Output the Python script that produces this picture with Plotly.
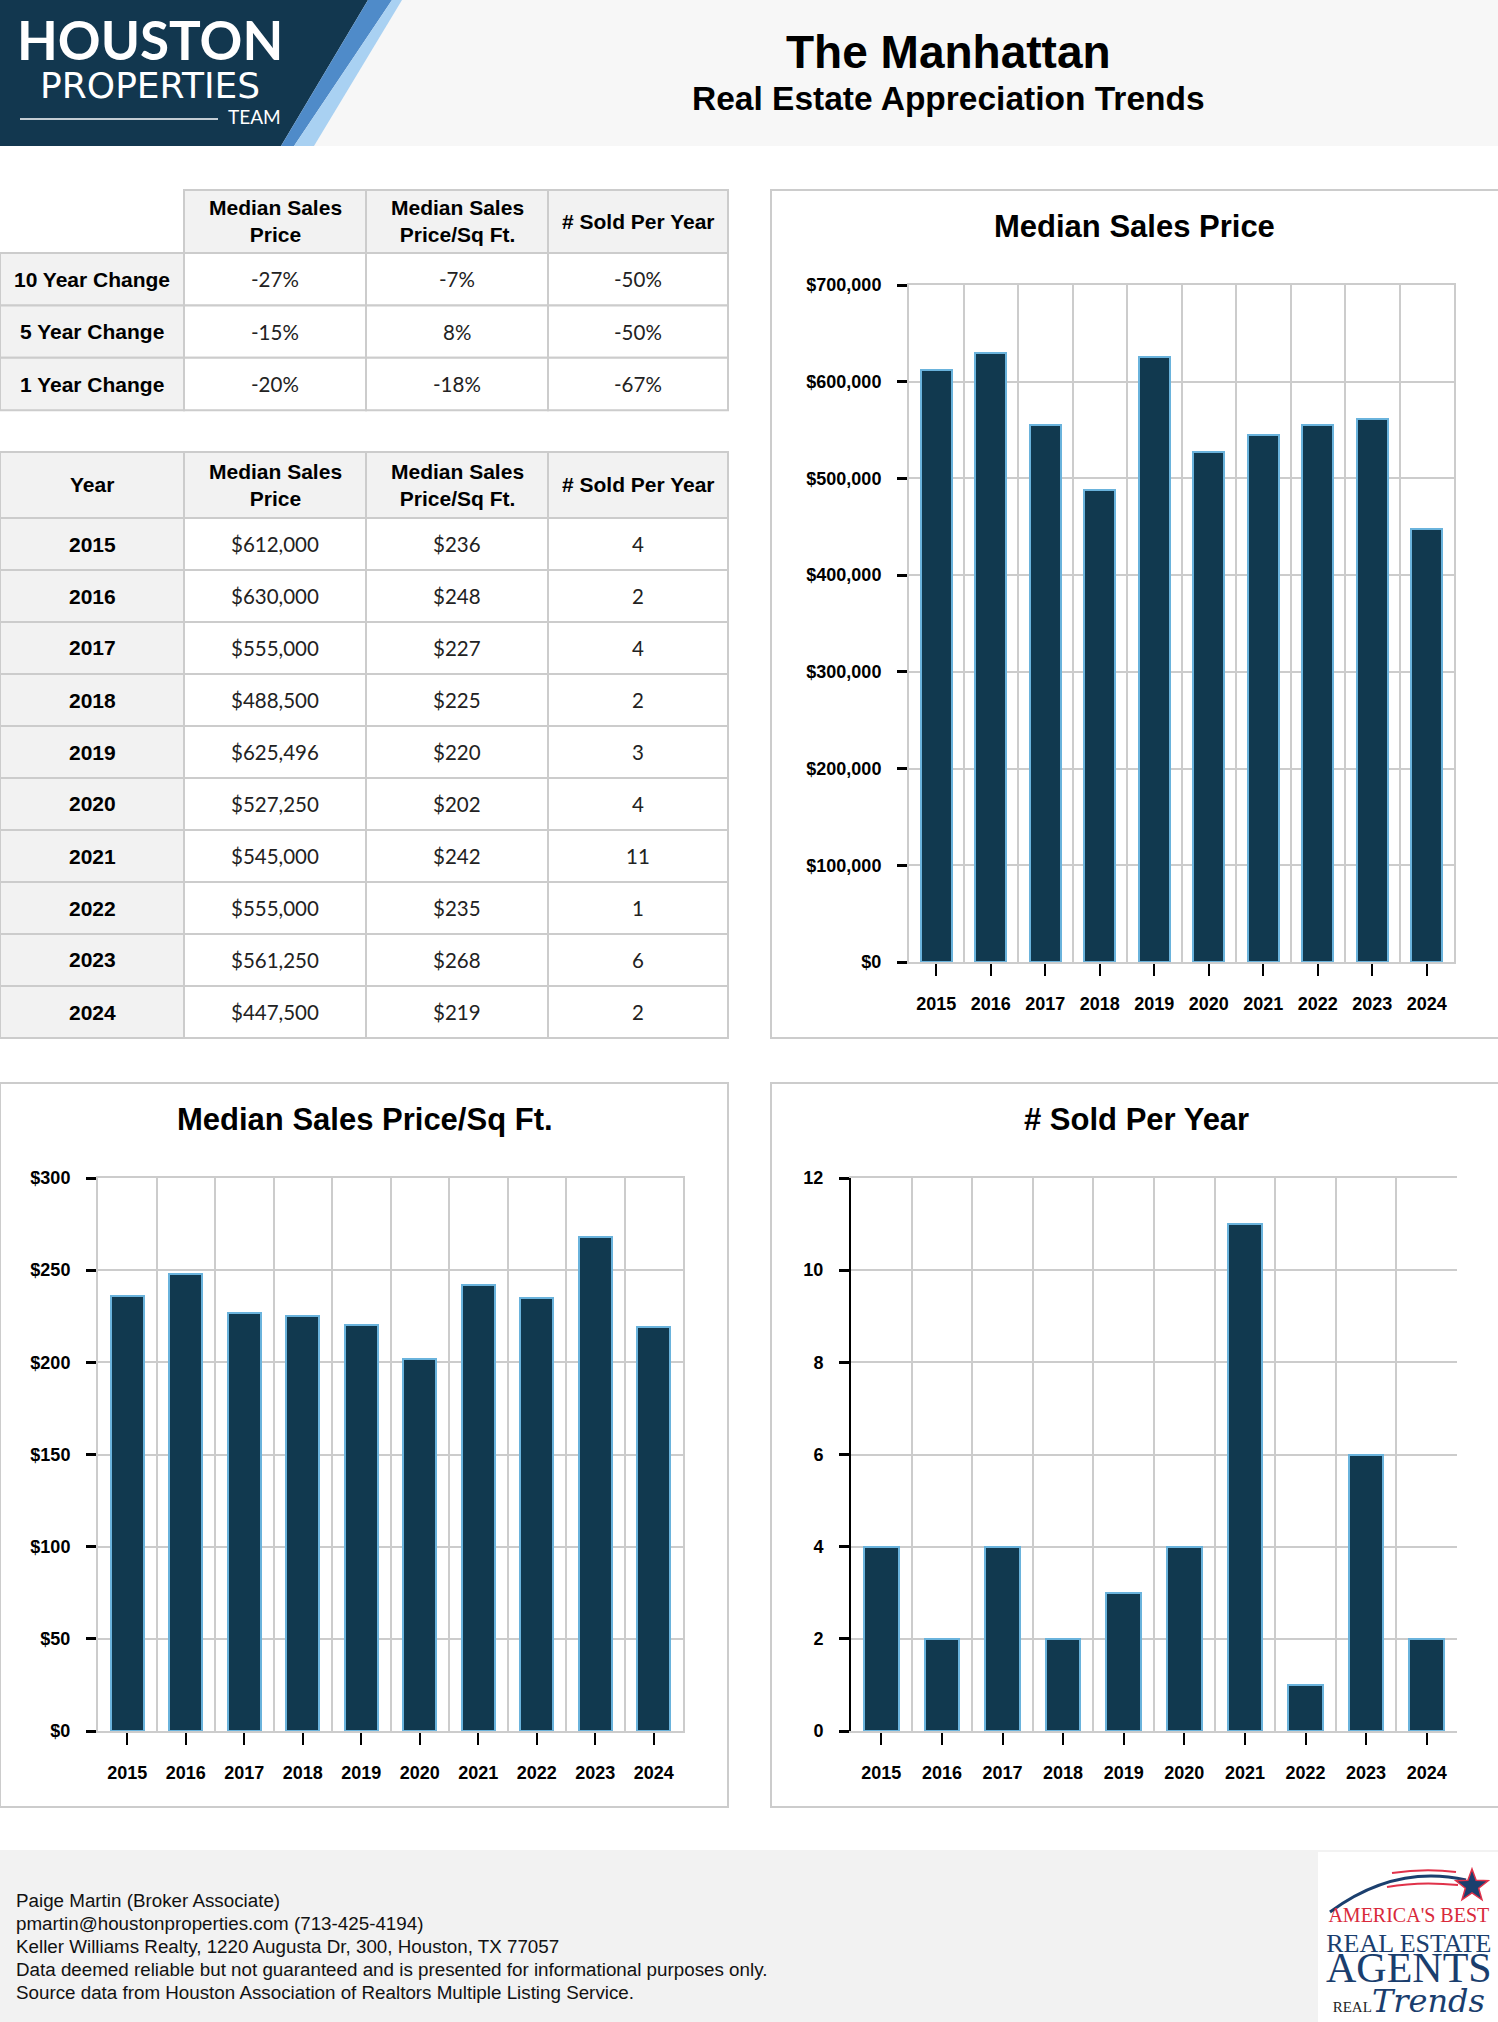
import math
import plotly.graph_objects as go

W, H = 1498, 2022

# ---------------- data ----------------
years = [2015, 2016, 2017, 2018, 2019, 2020, 2021, 2022, 2023, 2024]
median_sales_price = [612000, 630000, 555000, 488500, 625496, 527250, 545000, 555000, 561250, 447500]
median_price_sqft = [236, 248, 227, 225, 220, 202, 242, 235, 268, 219]
sold_per_year = [4, 2, 4, 2, 3, 4, 11, 1, 6, 2]

change_periods = ["10 Year Change", "5 Year Change", "1 Year Change"]
change_sales_price = ["-27%", "-15%", "-20%"]
change_price_sqft = ["-7%", "8%", "-18%"]
change_sold = ["-50%", "-50%", "-67%"]

metric_headers = ["Median Sales<br>Price", "Median Sales<br>Price/Sq Ft.", "# Sold Per Year"]
chart_titles = ["Median Sales Price", "Median Sales Price/Sq Ft.", "# Sold Per Year"]

page_title = "The Manhattan"
page_subtitle = "Real Estate Appreciation Trends"
footer_lines = [
    "Paige Martin (Broker Associate)",
    "pmartin@houstonproperties.com (713-425-4194)",
    "Keller Williams Realty, 1220 Augusta Dr, 300, Houston, TX 77057",
    "Data deemed reliable but not guaranteed and is presented for informational purposes only.",
    "Source data from Houston Association of Realtors Multiple Listing Service.",
]

# ---------------- styles ----------------
NAVY = "#11394f"
BAR_EDGE = "#6ab3dc"
GRID = "#cccccc"
CELL_GRAY = "#f2f2f2"
LOGO_NAVY = "#12374f"
SANS = "Liberation Sans, Arial, sans-serif"
LATO = "Lato, sans-serif"
SERIF = "Liberation Serif, DejaVu Serif, serif"


def px(x):
    return x / W


def py(y):
    return 1 - y / H


def path(points, close=True):
    s = "M " + " L ".join(f"{px(x):.5f},{py(y):.5f}" for x, y in points)
    return s + (" Z" if close else "")


shapes = []
annotations = []


def rect(x0, y0, x1, y1, fill=None, line=None, lw=2, layer="below"):
    shapes.append(dict(type="rect", xref="paper", yref="paper", x0=px(x0), x1=px(x1),
                       y0=py(y1), y1=py(y0), fillcolor=fill or "rgba(0,0,0,0)",
                       line=dict(color=line or "rgba(0,0,0,0)", width=lw if line else 0),
                       layer=layer))


def text(x, y, s, size, family=SANS, color="#000000", weight="normal", xanchor="center",
         yanchor="middle", style="normal", align="center"):
    annotations.append(dict(x=px(x), y=py(y), xref="paper", yref="paper", text=s, showarrow=False,
                            xanchor=xanchor, yanchor=yanchor, align=align,
                            font=dict(family=family, size=size, color=color, weight=weight, style=style)))


# ---------------- header ----------------
rect(0, 0, W, 146, fill="#f7f7f7")
shapes.append(dict(type="path", xref="paper", yref="paper", layer="below",
                   path=path([(0, 0), (368, 0), (281, 146), (0, 146)]),
                   fillcolor=LOGO_NAVY, line=dict(width=0)))
shapes.append(dict(type="path", xref="paper", yref="paper", layer="below",
                   path=path([(368, 0), (392, 0), (294, 146), (281, 146)]),
                   fillcolor="#4f8bc9", line=dict(width=0)))
shapes.append(dict(type="path", xref="paper", yref="paper", layer="below",
                   path=path([(392, 0), (402, 0), (314, 146), (294, 146)]),
                   fillcolor="#a9d1f2", line=dict(width=0)))
text(150, 57,
     "<span style='font-family:Lato;font-weight:bold;font-size:53px'>HOUSTON</span><br>"
     "<span style='font-family:DejaVu Sans;font-size:36px'>PROPERTIES</span>",
     29, family=LATO, color="white")
text(283, 117, "TEAM", 19, family=LATO, color="white", xanchor="right")
shapes.append(dict(type="line", xref="paper", yref="paper", x0=px(20), x1=px(218),
                   y0=py(119), y1=py(119), line=dict(color="rgba(255,255,255,0.75)", width=2)))

text(948, 52, page_title, 46, family=SANS, weight="bold")
text(948, 99, page_subtitle, 33.5, family=SANS, weight="bold")

# ---------------- tables ----------------
col_edges = [0, 184, 366, 548, 728]


def draw_table(top, header_h, row_h, corner, rows):
    heads = [corner] + metric_headers
    for c in range(4):
        x0, x1 = col_edges[c], col_edges[c + 1]
        if heads[c] is None:
            continue
        rect(x0, top, x1, top + header_h, fill=CELL_GRAY, line=GRID)
        text((x0 + x1) / 2, top + header_h / 2, heads[c], 21, family=SANS, weight="bold")
    for r, row in enumerate(rows):
        y0 = top + header_h + r * row_h
        for c in range(4):
            x0, x1 = col_edges[c], col_edges[c + 1]
            rect(x0, y0, x1, y0 + row_h, fill=CELL_GRAY if c == 0 else "white", line=GRID)
            if c == 0:
                text((x0 + x1) / 2, y0 + row_h / 2, row[c], 21, family=SANS, weight="bold")
            else:
                text((x0 + x1) / 2, y0 + row_h / 2, row[c], 20.5, family=LATO, color="#222222")


change_rows = [[change_periods[i], change_sales_price[i], change_price_sqft[i], change_sold[i]]
               for i in range(len(change_periods))]
draw_table(190, 63, 52.4, None, change_rows)

year_rows = [[str(years[i]), f"${median_sales_price[i]:,}", f"${median_price_sqft[i]}", str(sold_per_year[i])]
             for i in range(len(years))]
draw_table(452, 66, 52, "Year", year_rows)

# ---------------- chart panels ----------------
panels = [(771, 190, 1499, 1038), (0, 1083, 728, 1807), (771, 1083, 1499, 1807)]
for (x0, y0, x1, y1) in panels:
    rect(x0, y0, x1, y1, line=GRID, lw=2)
text(1134, 226, chart_titles[0], 31, family=SANS, weight="bold")
text(365, 1119, chart_titles[1], 31, family=SANS, weight="bold")
text(1136, 1119, chart_titles[2], 31, family=SANS, weight="bold")

fig = go.Figure()
series = [median_sales_price, median_price_sqft, sold_per_year]
axis_ids = ["", "2", "3"]
for s, a in zip(series, axis_ids):
    fig.add_trace(go.Bar(x=years, y=s, xaxis="x" + a, yaxis="y" + a, width=0.57,
                         marker=dict(color=NAVY, line=dict(color=BAR_EDGE, width=2)),
                         hoverinfo="skip", showlegend=False))

plot_boxes = [(909, 285, 1454, 962), (98, 1178, 683, 1731), (851, 1178, 1457, 1731)]
y_ranges = [[0, 700000], [0, 300], [0, 12]]
y_dticks = [100000, 50, 2]
y_prefix = ["$", "$", ""]
y_line = [GRID, GRID, "black"]
tickfont = dict(family=SANS, size=18, color="black", weight="bold")

layout_axes = {}
for i, a in enumerate(axis_ids):
    x0, y0, x1, y1 = plot_boxes[i]
    layout_axes["xaxis" + a] = dict(
        domain=[px(x0), px(x1)], anchor="y" + a, range=[years[0] - 0.5, years[-1] + 0.5],
        tickmode="linear", tick0=years[0], dtick=1, tickformat="d", automargin=False,
        ticks="outside", ticklen=12, tickwidth=2, tickcolor="black",
        showgrid=False, zeroline=False, showline=True, linecolor=GRID, linewidth=2, mirror=True,
        minor=dict(tickmode="linear", tick0=years[0] - 0.5, dtick=1, showgrid=True,
                   gridcolor=GRID, gridwidth=2, ticks=""),
        tickfont=tickfont, ticklabelstandoff=12, fixedrange=True)
    layout_axes["yaxis" + a] = dict(
        domain=[py(y1), py(y0)], anchor="x" + a, range=y_ranges[i], tick0=0, dtick=y_dticks[i],
        tickprefix=y_prefix[i], tickformat=",d", automargin=False,
        ticks="outside", ticklen=10, tickwidth=2.5, tickcolor="black",
        showgrid=True, gridcolor=GRID, gridwidth=2, zeroline=False,
        showline=True, linecolor=y_line[i], linewidth=2, mirror=(i < 2),
        tickfont=tickfont, ticklabelstandoff=12, fixedrange=True)

# ---------------- footer ----------------
rect(0, 1850, W, H + 2, fill="#f2f2f2")
for i, line in enumerate(footer_lines):
    text(14, 1900 + i * 23.2, line, 18.8, family=SANS, color="#111111", xanchor="left", align="left")

# footer logo
rect(1318, 1852, W + 2, H + 2, fill="white")
shapes.append(dict(type="path", xref="paper", yref="paper", layer="above",
                   path=f"M {px(1330):.5f},{py(1912):.5f} Q {px(1395):.5f},{py(1864):.5f} {px(1466):.5f},{py(1880):.5f}",
                   line=dict(color="#1b3f6e", width=3)))
shapes.append(dict(type="path", xref="paper", yref="paper", layer="above",
                   path=f"M {px(1392):.5f},{py(1873):.5f} Q {px(1425):.5f},{py(1868):.5f} {px(1456):.5f},{py(1872):.5f}",
                   line=dict(color="#e0324a", width=2)))
shapes.append(dict(type="path", xref="paper", yref="paper", layer="above",
                   path=f"M {px(1387):.5f},{py(1887):.5f} Q {px(1420):.5f},{py(1881):.5f} {px(1458):.5f},{py(1885):.5f}",
                   line=dict(color="#e0324a", width=2)))
cx, cy, R, r_in = 1472, 1886, 17, 7
star = []
for k in range(10):
    ang = -math.pi / 2 + k * math.pi / 5
    rad = R if k % 2 == 0 else r_in
    star.append((cx + rad * math.cos(ang), cy + rad * math.sin(ang)))
shapes.append(dict(type="path", xref="paper", yref="paper", layer="above", path=path(star),
                   fillcolor="#1b3f6e", line=dict(color="#e0324a", width=1.5)))
text(1409, 1962,
     "<span style='font-size:20px;color:#d9293b'>AMERICA'S BEST</span><br>"
     "<span style='font-size:26px'>REAL ESTATE</span><br>"
     "<span style='font-size:42px'>AGENTS</span><br>"
     "<span style='font-size:15px;color:#222222'>REAL</span>"
     "<span style='font-size:32px;font-style:italic;font-family:DejaVu Serif'>Trends</span>",
     23, family=SERIF, color="#1a3e6e")

fig.update_layout(width=W, height=H, margin=dict(l=0, r=0, t=0, b=0, pad=0, autoexpand=False),
                  autosize=False,
                  paper_bgcolor="white", plot_bgcolor="rgba(0,0,0,0)", showlegend=False,
                  bargap=0, shapes=shapes, annotations=annotations, **layout_axes)

fig.write_html("out.html", config={"displayModeBar": False},
               post_script="document.documentElement.style.margin='0';"
                           "document.documentElement.style.overflow='hidden';"
                           "document.body.style.margin='0';document.body.style.padding='0';"
                           "document.body.style.overflow='hidden';"
                           "var d=document.getElementById('{plot_id}');"
                           "d.style.position='absolute';d.style.top='0px';d.style.left='0px';")
